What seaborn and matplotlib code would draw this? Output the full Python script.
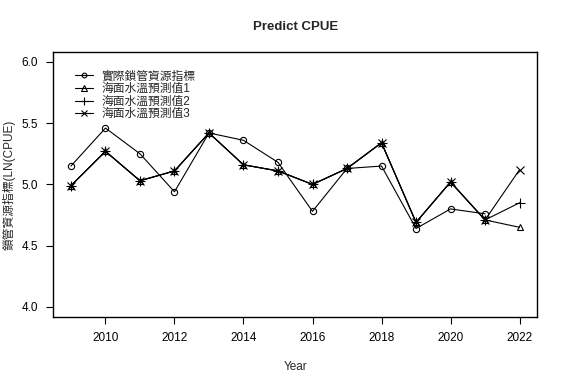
import seaborn as sns
import matplotlib.pyplot as plt

years = [2009, 2010, 2011, 2012, 2013, 2014, 2015, 2016, 2017, 2018, 2019, 2020, 2021, 2022]
actual = [5.15, 5.46, 5.25, 4.94, 5.42, 5.36, 5.18, 4.78, 5.13, 5.15, 4.64, 4.80, 4.76]
pred1 = [4.99, 5.27, 5.03, 5.11, 5.42, 5.16, 5.11, 5.00, 5.13, 5.34, 4.69, 5.02, 4.71, 4.65]
pred2 = [4.99, 5.27, 5.03, 5.11, 5.42, 5.16, 5.11, 5.00, 5.13, 5.34, 4.69, 5.02, 4.71, 4.85]
pred3 = [4.99, 5.27, 5.03, 5.11, 5.42, 5.16, 5.11, 5.00, 5.13, 5.34, 4.69, 5.02, 4.71, 5.12]
labels = ['實際鎖管資源指標', '海面水溫預測值1', '海面水溫預測值2', '海面水溫預測值3']

sns.set_style('white')
plt.rcParams['font.family'] = ['Liberation Sans', 'Noto Sans CJK TC', 'DejaVu Sans']

fig = plt.figure(figsize=(5.64, 3.83), dpi=100)
ax = fig.add_axes([0.094, 0.173, 0.859, 0.691])

common = dict(color='black', linewidth=0.8, markeredgecolor='black', markeredgewidth=0.8, ax=ax)
sns.lineplot(x=years[:len(actual)], y=actual, marker='o', markersize=4.5,
             markerfacecolor='none', label=labels[0], **common)
sns.lineplot(x=years, y=pred1, marker='^', markersize=5,
             markerfacecolor='none', label=labels[1], **common)
sns.lineplot(x=years, y=pred2, marker='+', markersize=7, label=labels[2], **common)
sns.lineplot(x=years, y=pred3, marker='x', markersize=5.5, label=labels[3], **common)

ax.set_xlim(2008.48, 2022.52)
ax.set_ylim(3.92, 6.08)
ax.set_xticks(range(2010, 2023, 2))
ax.set_yticks([4.0, 4.5, 5.0, 5.5, 6.0])
ax.set_yticklabels(['4.0', '4.5', '5.0', '5.5', '6.0'])
ax.tick_params(direction='out', length=5, width=0.8, labelsize=8.5, colors='black',
               left=True, bottom=True, pad=6)
for s in ax.spines.values():
    s.set_color('black')
    s.set_linewidth(1)

ax.set_title('Predict CPUE', fontsize=9.5, fontweight='bold', pad=16)
ax.set_xlabel('Year', fontsize=8.5, labelpad=12)
ax.set_ylabel('鎖管資源指標(LN(CPUE)', fontsize=8.5, labelpad=4)

leg = ax.legend(loc='upper left', frameon=False, fontsize=8.5, handlelength=1.6,
                markerscale=0.75, labelspacing=0.05, handletextpad=0.7,
                borderaxespad=0.6, bbox_to_anchor=(0.02, 0.975))

fig.savefig('out.png', dpi=100)
